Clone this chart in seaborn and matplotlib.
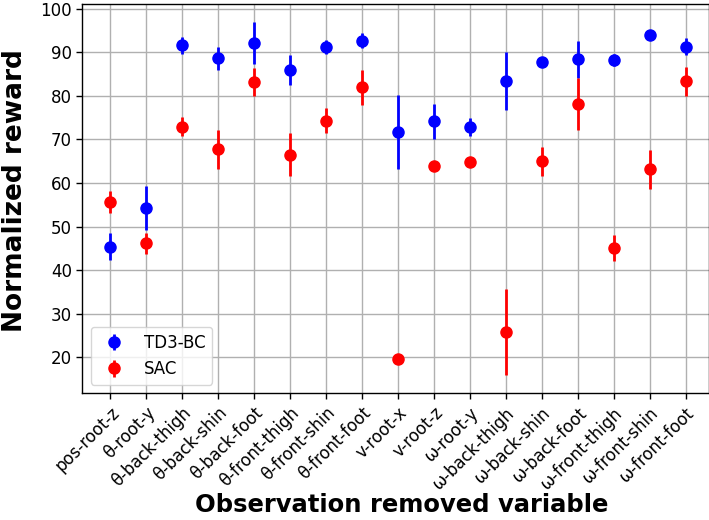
import matplotlib
matplotlib.use("Agg")
import matplotlib.pyplot as plt
import seaborn as sns
import numpy as np
import pandas as pd

categories = ["pos-root-z", "θ-root-y", "θ-back-thigh", "θ-back-shin",
              "θ-back-foot", "θ-front-thigh", "θ-front-shin",
              "θ-front-foot", "v-root-x", "v-root-z", "ω-root-y",
              "ω-back-thigh", "ω-back-shin", "ω-back-foot",
              "ω-front-thigh", "ω-front-shin", "ω-front-foot"]

td3bc_mean = [45.4, 54.2, 91.6, 88.6, 92.2, 85.9, 91.3, 92.7, 71.7, 74.2, 72.9,
              83.4, 87.8, 88.4, 88.3, 94.0, 91.3]
td3bc_err = [3.0, 5.1, 1.9, 2.6, 4.8, 3.4, 1.6, 1.7, 8.6, 4.0, 2.1,
             6.7, 0.5, 4.2, 1.4, 0.5, 1.9]
sac_mean = [55.7, 46.1, 72.9, 67.7, 83.1, 66.5, 74.3, 82.0, 19.5, 64.0, 64.7,
            25.7, 65.0, 78.2, 45.0, 63.1, 83.3]
sac_err = [2.5, 2.5, 2.2, 4.5, 3.2, 4.9, 2.8, 4.0, 0.0, 0.4, 0.4,
           9.9, 3.3, 6.0, 3.0, 4.5, 3.3]

series = {"TD3-BC": (td3bc_mean, td3bc_err, "blue"),
          "SAC": (sac_mean, sac_err, "red")}

sns.set_style("whitegrid", {"axes.edgecolor": "black", "grid.color": "#b0b0b0",
                            "xtick.bottom": True, "ytick.left": True,
                            "text.color": "black", "axes.labelcolor": "black",
                            "xtick.color": "black", "ytick.color": "black"})
plt.rcParams["font.family"] = ["DejaVu Sans"]

fig = plt.figure(figsize=(7.09, 5.20), dpi=100)
ax = fig.add_axes([0.116, 0.244, 0.884, 0.748])

x = np.arange(len(categories))
for name, (m, e, c) in series.items():
    ax.errorbar(x, m, yerr=e, fmt="o", color=c, ecolor=c, markersize=8,
                elinewidth=2, label=name, zorder=3)

ax.set_xlim(-0.78, 16.65)
ax.set_xticks(x)
ax.set_xticklabels(categories, rotation=45, ha="right", rotation_mode="anchor", fontsize=12)
ax.tick_params(axis="y", labelsize=12)
ax.tick_params(axis="both", length=4, width=1, color="black")
ax.set_yticks([20, 30, 40, 50, 60, 70, 80, 90, 100])
ax.grid(True, color="#b0b0b0", linewidth=1)
for s in ax.spines.values():
    s.set_color("black")
    s.set_linewidth(1)
ax.set_ylabel("Normalized reward", fontsize=19, fontweight="bold")
ax.set_xlabel("Observation removed variable", fontsize=17.5, fontweight="bold")
ax.yaxis.set_label_coords(-0.086, 0.522)
ax.xaxis.set_label_coords(0.51, -0.256)
ax.legend(loc="lower left", fontsize=12, frameon=True)

fig.savefig("out.png", dpi=100)
